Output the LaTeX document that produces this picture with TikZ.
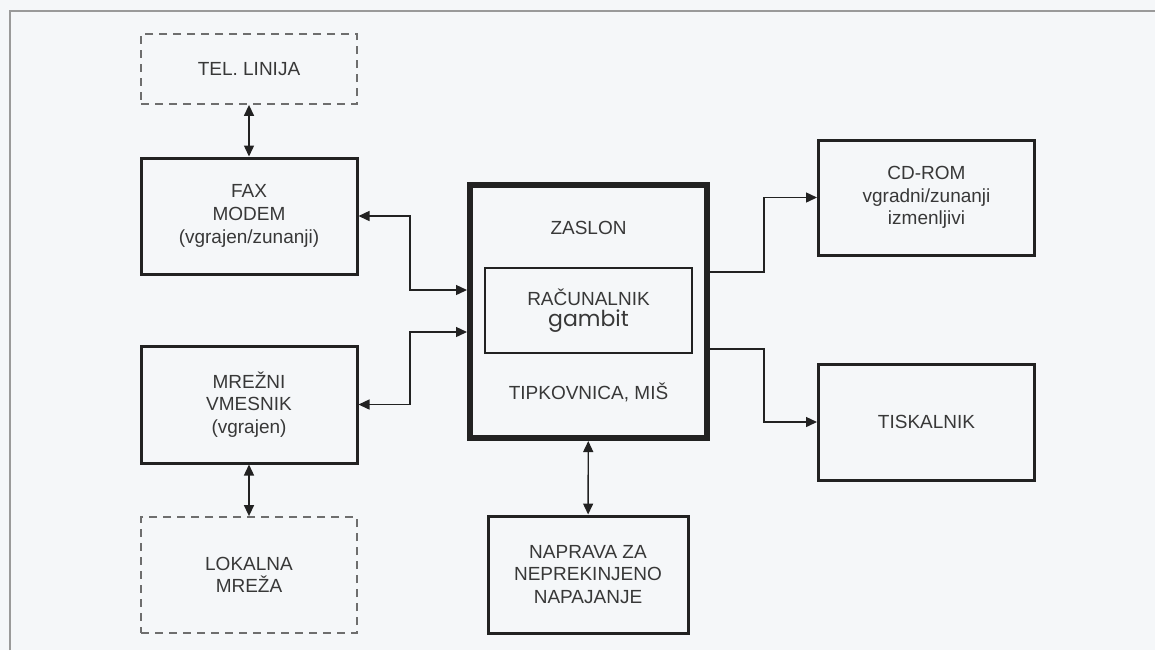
\documentclass[tikz,border=0pt]{standalone}
\usepackage{fontspec}
\setmainfont{Liberation Sans}
\newfontfamily\gambitfont{Poppins}
\usepackage{xcolor}
\usepackage{tikz}
\usetikzlibrary{arrows.meta,positioning}
\definecolor{linec}{HTML}{222222}
\definecolor{textc}{HTML}{383838}
\definecolor{dashc}{HTML}{6E6E6E}
\definecolor{pagebg}{HTML}{F5F7F9}
\definecolor{framec}{HTML}{9A9A9A}
\tikzset{
  ar/.style={-{Triangle[length=5.5pt,width=5pt]},line width=0.7pt,linec},
  dar/.style={{Triangle[length=5.5pt,width=5pt]}-{Triangle[length=5.5pt,width=5pt]},line width=0.7pt,linec},
  box/.style={draw=linec,line width=1.5pt,align=center,text=textc,font=\fontsize{9.5}{11.3}\selectfont,minimum width=108pt,minimum height=58pt,inner sep=2pt},
  dbox/.style={box,draw=dashc,line width=0.9pt,dash pattern=on 4pt off 3pt},
  txt/.style={text=textc,font=\fontsize{9.5}{11.3}\selectfont,inner sep=0pt}
}

\begin{document}
\begin{tikzpicture}[x=0.5pt,y=-0.5pt]
\fill[pagebg] (0,0) rectangle (1155,650);
\useasboundingbox (0,0) rectangle (1155,650);
\draw[framec,line width=1pt] (10,650) -- (10,11) -- (1155,11);

% left column
\node[dbox,minimum height=35pt] (tel) at (249,69) {TEL. LINIJA};
\node[box] (fax) at (249,216) {FAX\\MODEM\\(vgrajen/zunanji)};
\node[box,minimum height=58.5pt] (mrez) at (249,404.5) {MRE\v{Z}NI\\VMESNIK\\(vgrajen)};
\node[dbox] (lok) at (249,575) {LOKALNA\\MRE\v{Z}A};

% computer
\node[box,line width=3pt,minimum width=118.5pt,minimum height=126.5pt] (main) at (588.5,311.5) {};
\node[txt] (zaslon) at (588.5,228) {ZASLON};
\node[box,line width=1pt,minimum width=103.5pt,minimum height=42.5pt] (rac) at (588.5,310.5)
  {RA\v{C}UNALNIK\\[-1pt]{\gambitfont\fontsize{11}{12}\selectfont gambit}};
\node[txt] (tip) at (588.5,392) {TIPKOVNICA, MI\v{S}};
\node[box,minimum width=100pt,minimum height=58.5pt] (ups) at (588,574.5) {NAPRAVA ZA\\NEPREKINJENO\\NAPAJANJE};

% right column
\node[box,minimum height=57.5pt] (cd) at (926.5,197.5) {CD-ROM\\vgradni/zunanji\\izmenljivi};
\node[box] (tisk) at (926.5,422) {TISKALNIK};

% connectors
\draw[dar] (tel) -- (fax);
\draw[dar] (mrez) -- (lok);
\draw[dar] ([yshift=10.75pt]main.west) -- ++(-57,0) |- (fax.east);
\draw[dar] ([yshift=-10.25pt]main.west) -- ++(-57,0) |- (mrez.east);
\draw[dar] (main) -- (ups);
\draw[ar] ([yshift=19.75pt]main.east) -- ++(54,0) |- (cd.west);
\draw[ar] ([yshift=-18.75pt]main.east) -- ++(54,0) |- (tisk.west);
\end{tikzpicture}
\end{document}
